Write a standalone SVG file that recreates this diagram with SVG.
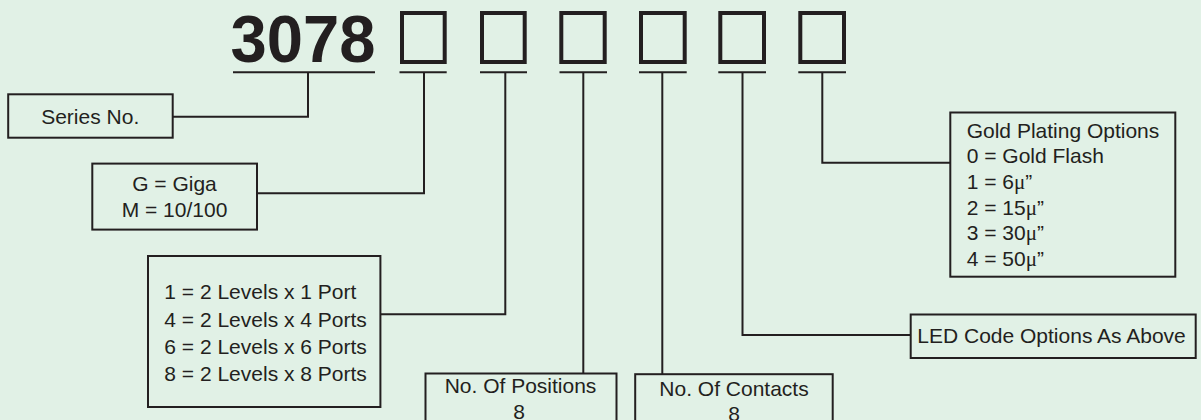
<svg xmlns="http://www.w3.org/2000/svg" width="1201" height="420" viewBox="0 0 1201 420">
<style>
text{font-family:"Liberation Sans",Arial,sans-serif;font-size:21px;fill:#231f20}
.c{text-anchor:middle}
.big{font-size:67px;font-weight:bold}
.box{fill:none;stroke:#231f20;stroke-width:2}
.sq{fill:none;stroke:#231f20;stroke-width:4}
.ln{fill:none;stroke:#231f20;stroke-width:2}
.mu{font-family:"Liberation Serif","Times New Roman",serif}
</style>
<rect x="0" y="0" width="1201" height="420" fill="#e1f1e6"/>
<g id="title">
<text class="big" x="230.5" y="62.3" textLength="145" lengthAdjust="spacingAndGlyphs">3078</text>
<line class="ln" x1="233" y1="72.3" x2="375" y2="72.3"/>
</g>
<g id="slots">
<rect class="sq" x="402" y="13" width="42.7" height="49"/>
<rect class="sq" x="482" y="13" width="42.7" height="49"/>
<rect class="sq" x="561.3" y="13" width="43.4" height="49"/>
<rect class="sq" x="641" y="13" width="43.7" height="49"/>
<rect class="sq" x="720.3" y="13" width="43.7" height="49"/>
<rect class="sq" x="800.3" y="13" width="43.7" height="49"/>
<line class="ln" x1="399.5" y1="72.3" x2="446.7" y2="72.3"/>
<line class="ln" x1="480" y1="72.3" x2="527" y2="72.3"/>
<line class="ln" x1="559.5" y1="72.3" x2="607" y2="72.3"/>
<line class="ln" x1="639" y1="72.3" x2="686.7" y2="72.3"/>
<line class="ln" x1="718.3" y1="72.3" x2="766" y2="72.3"/>
<line class="ln" x1="798.3" y1="72.3" x2="846" y2="72.3"/>
</g>
<g id="connectors">
<polyline class="ln" points="308,72.3 308,116.7 172.7,116.7"/>
<polyline class="ln" points="424,72.3 424,193.3 257,193.3"/>
<polyline class="ln" points="505.3,72.3 505.3,314.3 380.4,314.3"/>
<polyline class="ln" points="583.3,72.3 583.3,373.5"/>
<polyline class="ln" points="662.3,72.3 662.3,374"/>
<polyline class="ln" points="742.5,72.3 742.5,335 910.7,335"/>
<polyline class="ln" points="822.3,72.3 822.3,162.7 950,162.7"/>
</g>
<g id="series">
<rect class="box" x="8.2" y="94.3" width="164.5" height="43.4"/>
<text class="c" x="90.2" y="124">Series No.</text>
</g>
<g id="speed">
<rect class="box" x="92.3" y="163.6" width="164.7" height="66"/>
<text class="c" x="174.5" y="190.7">G = Giga</text>
<text class="c" x="174.5" y="216.7">M = 10/100</text>
</g>
<g id="ports">
<rect class="box" x="148" y="256" width="232.4" height="151"/>
<text x="164.3" y="299">1 = 2 Levels x 1 Port</text>
<text x="164.3" y="326.5">4 = 2 Levels x 4 Ports</text>
<text x="164.3" y="353.8">6 = 2 Levels x 6 Ports</text>
<text x="164.3" y="381">8 = 2 Levels x 8 Ports</text>
</g>
<g id="positions">
<rect class="box" x="425.5" y="373.5" width="191" height="60"/>
<text class="c" x="520.5" y="393">No. Of Positions</text>
<text class="c" x="519" y="418.5">8</text>
</g>
<g id="contacts">
<rect class="box" x="635.2" y="374.2" width="197.5" height="60"/>
<text class="c" x="734" y="395.5">No. Of Contacts</text>
<text class="c" x="734" y="421">8</text>
</g>
<g id="led">
<rect class="box" x="910.7" y="314.5" width="285" height="43.5"/>
<text x="917.3" y="343.3">LED Code Options As Above</text>
</g>
<g id="gold">
<rect class="box" x="950.3" y="112.5" width="225" height="164.2"/>
<text x="966.7" y="137.5">Gold Plating Options</text>
<text x="966.7" y="163.3">0 = Gold Flash</text>
<text x="966.7" y="189.3">1 = 6<tspan class="mu">μ</tspan>”</text>
<text x="966.7" y="215">2 = 15<tspan class="mu">μ</tspan>”</text>
<text x="966.7" y="240.3">3 = 30<tspan class="mu">μ</tspan>”</text>
<text x="966.7" y="265.7">4 = 50<tspan class="mu">μ</tspan>”</text>
</g>
</svg>
